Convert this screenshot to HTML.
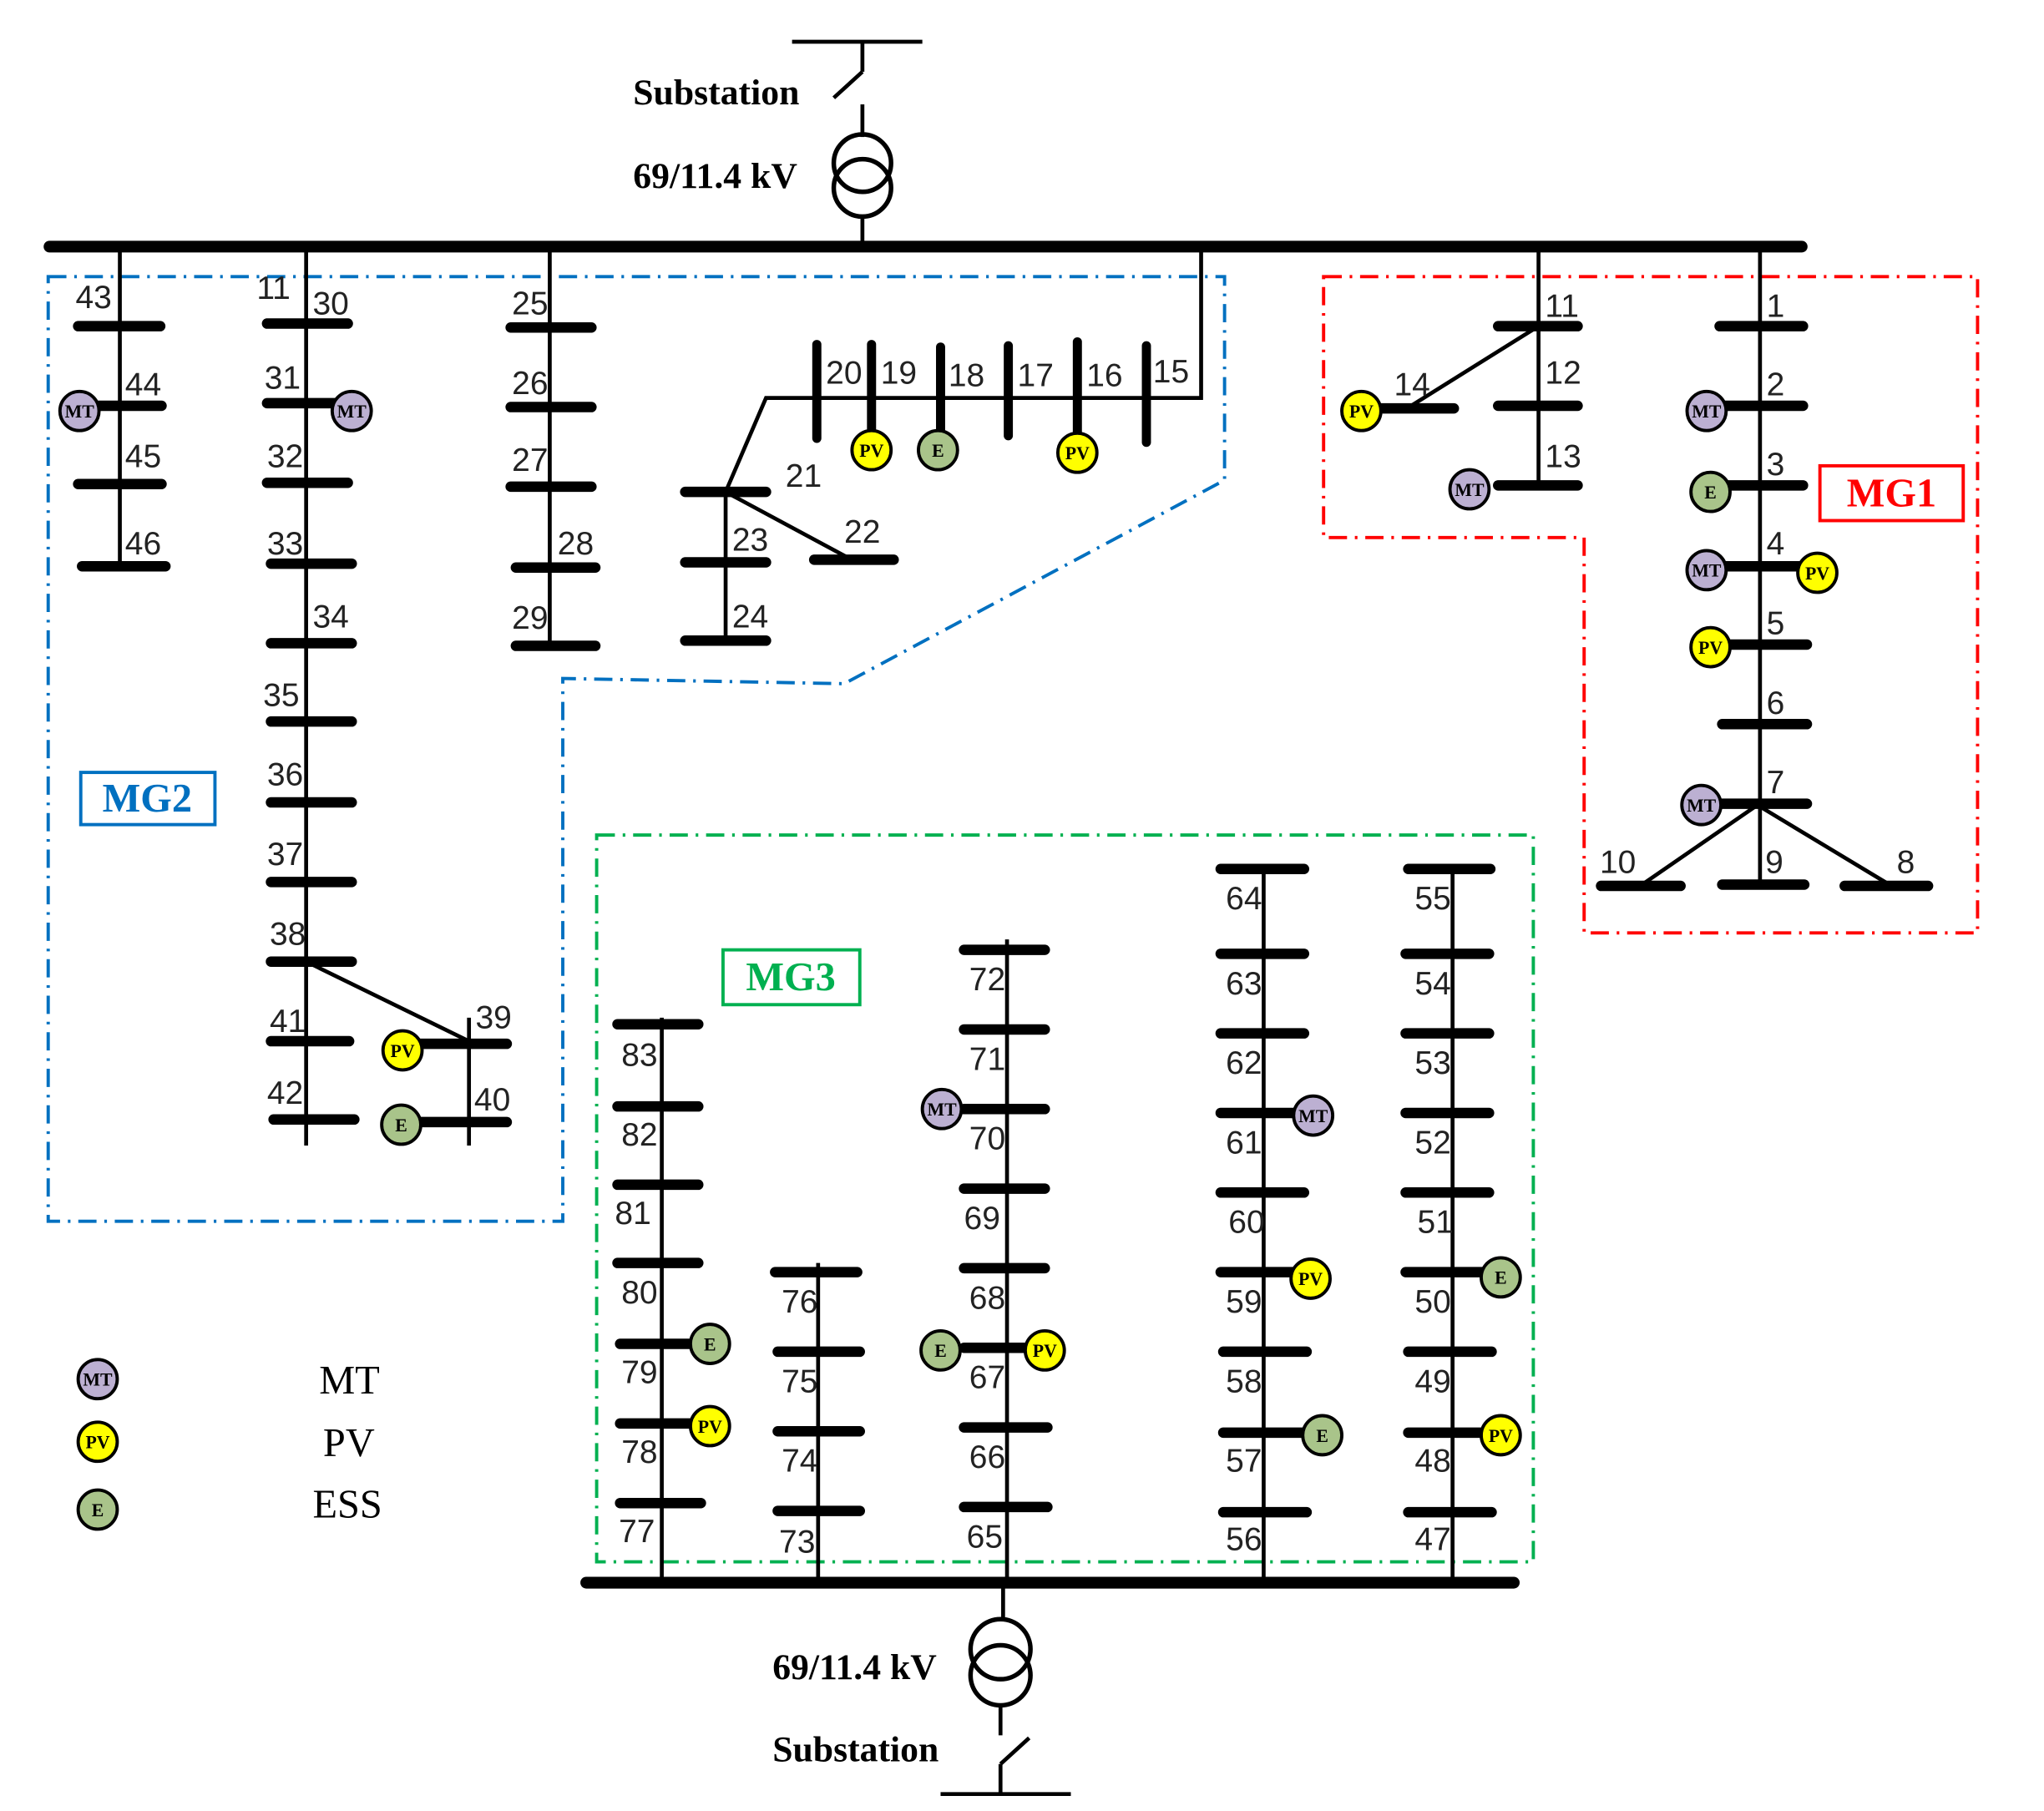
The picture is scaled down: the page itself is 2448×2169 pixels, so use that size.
<!DOCTYPE html>
<html><head><meta charset="utf-8"><style>
html,body{margin:0;padding:0;background:#fff;}
svg{display:block;}
.n{font-family:"Liberation Sans",sans-serif;font-size:25px;fill:#222;}
.b{stroke:#000;stroke-width:8;stroke-linecap:round;}
.l{stroke:#000;stroke-width:3;fill:none;}
.c{stroke:#000;stroke-width:2.5;}
.ct{font-family:"Liberation Serif",serif;font-weight:bold;font-size:14px;text-anchor:middle;fill:#000;}
.sub{font-family:"Liberation Serif",serif;font-weight:bold;font-size:28px;fill:#000;}
.mg{font-family:"Liberation Serif",serif;font-weight:bold;font-size:31px;text-anchor:middle;}
.lg{font-family:"Liberation Serif",serif;font-size:31px;fill:#000;}
</style></head><body>
<svg width="2448" height="2169" viewBox="0 0 1569 1388" preserveAspectRatio="none" xmlns="http://www.w3.org/2000/svg">
<defs>
<g id="mt"><circle r="15" fill="#BCB0D2" class="c"/><text y="5" class="ct">MT</text></g>
<g id="pv"><circle r="15" fill="#FFFF00" class="c"/><text y="5" class="ct">PV</text></g>
<g id="e"><circle r="15" fill="#A9C48A" class="c"/><text y="5" class="ct">E</text></g>
</defs>

<polygon points="37,212 940,212 940,368 648,524 432,520 432,936 37,936" fill="none" stroke="#0070C0" stroke-width="2.5" stroke-dasharray="14,6,2,6"/>
<polygon points="1016,212 1518,212 1518,715 1216,715 1216,412 1016,412" fill="none" stroke="#FF0000" stroke-width="2.5" stroke-dasharray="14,6,2,6"/>
<rect x="458" y="640" width="719" height="557" fill="none" stroke="#00B050" stroke-width="2.5" stroke-dasharray="14,6,2,6"/>

<rect x="62" y="592" width="103" height="40" fill="#fff" stroke="#0070C0" stroke-width="2.5"/>
<text x="113" y="622" class="mg" fill="#0070C0">MG2</text>
<rect x="1397" y="357" width="110" height="42" fill="#fff" stroke="#FF0000" stroke-width="2.5"/>
<text x="1452" y="388" class="mg" fill="#FF0000">MG1</text>
<rect x="555" y="728" width="105" height="42" fill="#fff" stroke="#00B050" stroke-width="2.5"/>
<text x="607" y="759" class="mg" fill="#00B050">MG3</text>

<line x1="608" y1="32" x2="708" y2="32" class="l"/>
<line x1="662" y1="32" x2="662" y2="55" class="l"/>
<line x1="662" y1="55" x2="640" y2="75" class="l"/>
<line x1="662" y1="80" x2="662" y2="105" class="l"/>
<circle cx="662" cy="125" r="22" fill="none" stroke="#000" stroke-width="3.5"/>
<circle cx="662" cy="144" r="22" fill="none" stroke="#000" stroke-width="3.5"/>
<line x1="662" y1="166" x2="662" y2="189" class="l"/>
<text x="486" y="80" class="sub">Substation</text>
<text x="486" y="144" class="sub">69/11.4 kV</text>

<line x1="38" y1="189" x2="1383" y2="189" stroke="#000" stroke-width="9" stroke-linecap="round"/>
<line x1="92" y1="189" x2="92" y2="436" class="l"/>
<line x1="235" y1="189" x2="235" y2="878" class="l"/>
<line x1="422" y1="189" x2="422" y2="495" class="l"/>
<polyline points="922,189 922,305 588,305 557,377" class="l"/>
<line x1="1181" y1="189" x2="1181" y2="373" class="l"/>
<line x1="1351" y1="189" x2="1351" y2="680" class="l"/>

<line x1="60" y1="250" x2="123" y2="250" class="b"/>
<line x1="60" y1="311" x2="124" y2="311" class="b"/>
<line x1="60" y1="371" x2="124" y2="371" class="b"/>
<line x1="63" y1="434" x2="127" y2="434" class="b"/>
<text x="58" y="236" class="n">43</text><text x="96" y="303" class="n">44</text><text x="96" y="358" class="n">45</text><text x="96" y="425" class="n">46</text>
<use href="#mt" x="61" y="315"/>

<line x1="205" y1="248" x2="267" y2="248" class="b"/>
<line x1="205" y1="309" x2="267" y2="309" class="b"/>
<line x1="205" y1="370" x2="267" y2="370" class="b"/>
<line x1="208" y1="432" x2="270" y2="432" class="b"/>
<line x1="208" y1="493" x2="270" y2="493" class="b"/>
<line x1="208" y1="553" x2="270" y2="553" class="b"/>
<line x1="208" y1="615" x2="270" y2="615" class="b"/>
<line x1="208" y1="676" x2="270" y2="676" class="b"/>
<line x1="208" y1="737" x2="270" y2="737" class="b"/>
<line x1="208" y1="798" x2="268" y2="798" class="b"/>
<line x1="210" y1="858" x2="272" y2="858" class="b"/>
<text x="197" y="229" class="n">11</text><text x="240" y="241" class="n">30</text>
<text x="203" y="298" class="n">31</text><text x="205" y="358" class="n">32</text>
<text x="205" y="425" class="n">33</text><text x="240" y="481" class="n">34</text>
<text x="202" y="541" class="n">35</text><text x="205" y="602" class="n">36</text>
<text x="205" y="663" class="n">37</text><text x="207" y="724" class="n">38</text>
<text x="207" y="791" class="n">41</text><text x="205" y="846" class="n">42</text>
<use href="#mt" x="270" y="315"/>
<line x1="235" y1="737" x2="360" y2="798" class="l"/>
<line x1="360" y1="780" x2="360" y2="878" class="l"/>
<line x1="315" y1="800" x2="389" y2="800" class="b"/>
<line x1="320" y1="860" x2="389" y2="860" class="b"/>
<text x="365" y="788" class="n">39</text><text x="364" y="851" class="n">40</text>
<use href="#pv" x="309" y="805"/>
<use href="#e" x="308" y="862"/>

<line x1="392" y1="251" x2="454" y2="251" class="b"/>
<line x1="392" y1="312" x2="454" y2="312" class="b"/>
<line x1="392" y1="373" x2="454" y2="373" class="b"/>
<line x1="396" y1="435" x2="457" y2="435" class="b"/>
<line x1="396" y1="495" x2="457" y2="495" class="b"/>
<text x="393" y="241" class="n">25</text><text x="393" y="302" class="n">26</text>
<text x="393" y="361" class="n">27</text><text x="428" y="425" class="n">28</text>
<text x="393" y="482" class="n">29</text>

<line x1="627" y1="264" x2="627" y2="336" stroke="#000" stroke-width="7" stroke-linecap="round"/>
<line x1="669" y1="264" x2="669" y2="336" stroke="#000" stroke-width="7" stroke-linecap="round"/>
<line x1="722" y1="266" x2="722" y2="336" stroke="#000" stroke-width="7" stroke-linecap="round"/>
<line x1="774" y1="265" x2="774" y2="334" stroke="#000" stroke-width="7" stroke-linecap="round"/>
<line x1="827" y1="262" x2="827" y2="336" stroke="#000" stroke-width="7" stroke-linecap="round"/>
<line x1="880" y1="265" x2="880" y2="339" stroke="#000" stroke-width="7" stroke-linecap="round"/>
<text x="634" y="294" class="n">20</text><text x="676" y="294" class="n">19</text>
<text x="728" y="296" class="n">18</text><text x="781" y="296" class="n">17</text>
<text x="834" y="296" class="n">16</text><text x="885" y="293" class="n">15</text>
<use href="#pv" x="669" y="345"/>
<use href="#e" x="720" y="345"/>
<use href="#pv" x="827" y="347"/>

<line x1="526" y1="377" x2="588" y2="377" class="b"/>
<line x1="557" y1="377" x2="557" y2="491" class="l"/>
<line x1="526" y1="431" x2="588" y2="431" class="b"/>
<line x1="526" y1="491" x2="588" y2="491" class="b"/>
<line x1="557" y1="377" x2="652" y2="428" class="l"/>
<line x1="625" y1="429" x2="686" y2="429" class="b"/>
<text x="603" y="373" class="n">21</text><text x="648" y="416" class="n">22</text>
<text x="562" y="422" class="n">23</text><text x="562" y="481" class="n">24</text>

<line x1="1150" y1="250" x2="1211" y2="250" class="b"/>
<line x1="1150" y1="311" x2="1211" y2="311" class="b"/>
<line x1="1150" y1="372" x2="1211" y2="372" class="b"/>
<line x1="1181" y1="250" x2="1080" y2="313" class="l"/>
<line x1="1050" y1="313" x2="1116" y2="313" class="b"/>
<text x="1186" y="243" class="n">11</text><text x="1186" y="294" class="n">12</text>
<text x="1186" y="358" class="n">13</text><text x="1070" y="303" class="n">14</text>
<use href="#pv" x="1045" y="315"/>
<use href="#mt" x="1128" y="375"/>

<line x1="1320" y1="250" x2="1384" y2="250" class="b"/>
<line x1="1320" y1="311" x2="1384" y2="311" class="b"/>
<line x1="1320" y1="372" x2="1384" y2="372" class="b"/>
<line x1="1320" y1="434" x2="1384" y2="434" class="b"/>
<line x1="1320" y1="494" x2="1387" y2="494" class="b"/>
<line x1="1322" y1="555" x2="1387" y2="555" class="b"/>
<line x1="1320" y1="616" x2="1387" y2="616" class="b"/>
<line x1="1349" y1="617" x2="1259" y2="679" class="l"/>
<line x1="1349" y1="617" x2="1452" y2="679" class="l"/>
<line x1="1229" y1="679" x2="1290" y2="679" class="b"/>
<line x1="1322" y1="678" x2="1385" y2="678" class="b"/>
<line x1="1416" y1="679" x2="1480" y2="679" class="b"/>
<text x="1356" y="243" class="n">1</text><text x="1356" y="303" class="n">2</text>
<text x="1356" y="364" class="n">3</text><text x="1356" y="425" class="n">4</text>
<text x="1356" y="486" class="n">5</text><text x="1356" y="547" class="n">6</text>
<text x="1356" y="608" class="n">7</text>
<text x="1228" y="669" class="n">10</text><text x="1355" y="669" class="n">9</text><text x="1456" y="669" class="n">8</text>
<use href="#mt" x="1310" y="315"/>
<use href="#e" x="1313" y="377"/>
<use href="#mt" x="1310" y="437"/>
<use href="#pv" x="1395" y="439"/>
<use href="#pv" x="1313" y="496"/>
<use href="#mt" x="1306" y="617"/>

<line x1="450" y1="1213" x2="1162" y2="1213" stroke="#000" stroke-width="9" stroke-linecap="round"/>
<line x1="508" y1="780" x2="508" y2="1213" class="l"/>
<line x1="628" y1="968" x2="628" y2="1213" class="l"/>
<line x1="773" y1="720" x2="773" y2="1213" class="l"/>
<line x1="970" y1="665" x2="970" y2="1213" class="l"/>
<line x1="1115" y1="665" x2="1115" y2="1213" class="l"/>

<line x1="474" y1="785" x2="536" y2="785" class="b"/>
<line x1="474" y1="848" x2="536" y2="848" class="b"/>
<line x1="474" y1="908" x2="536" y2="908" class="b"/>
<line x1="474" y1="968" x2="536" y2="968" class="b"/>
<line x1="476" y1="1030" x2="538" y2="1030" class="b"/>
<line x1="476" y1="1091" x2="538" y2="1091" class="b"/>
<line x1="476" y1="1152" x2="538" y2="1152" class="b"/>
<text x="477" y="817" class="n">83</text><text x="477" y="878" class="n">82</text>
<text x="472" y="938" class="n">81</text><text x="477" y="999" class="n">80</text>
<text x="477" y="1060" class="n">79</text><text x="477" y="1121" class="n">78</text>
<text x="475" y="1182" class="n">77</text>
<use href="#e" x="545" y="1030"/>
<use href="#pv" x="545" y="1093"/>

<line x1="595" y1="975" x2="658" y2="975" class="b"/>
<line x1="597" y1="1036" x2="660" y2="1036" class="b"/>
<line x1="597" y1="1097" x2="660" y2="1097" class="b"/>
<line x1="597" y1="1158" x2="660" y2="1158" class="b"/>
<text x="600" y="1006" class="n">76</text><text x="600" y="1067" class="n">75</text>
<text x="600" y="1128" class="n">74</text><text x="598" y="1190" class="n">73</text>

<line x1="740" y1="728" x2="802" y2="728" class="b"/>
<line x1="740" y1="789" x2="802" y2="789" class="b"/>
<line x1="740" y1="850" x2="802" y2="850" class="b"/>
<line x1="740" y1="911" x2="802" y2="911" class="b"/>
<line x1="740" y1="972" x2="802" y2="972" class="b"/>
<line x1="740" y1="1033" x2="802" y2="1033" class="b"/>
<line x1="740" y1="1094" x2="804" y2="1094" class="b"/>
<line x1="740" y1="1155" x2="804" y2="1155" class="b"/>
<text x="744" y="759" class="n">72</text><text x="744" y="820" class="n">71</text>
<text x="744" y="881" class="n">70</text><text x="740" y="942" class="n">69</text>
<text x="744" y="1003" class="n">68</text><text x="744" y="1064" class="n">67</text>
<text x="744" y="1125" class="n">66</text><text x="742" y="1186" class="n">65</text>
<use href="#mt" x="723" y="850"/>
<use href="#e" x="722" y="1035"/>
<use href="#pv" x="802" y="1035"/>

<line x1="937" y1="666" x2="1001" y2="666" class="b"/>
<line x1="937" y1="731" x2="1001" y2="731" class="b"/>
<line x1="937" y1="792" x2="1001" y2="792" class="b"/>
<line x1="937" y1="853" x2="1001" y2="853" class="b"/>
<line x1="937" y1="914" x2="1001" y2="914" class="b"/>
<line x1="937" y1="975" x2="1001" y2="975" class="b"/>
<line x1="939" y1="1036" x2="1003" y2="1036" class="b"/>
<line x1="939" y1="1098" x2="1003" y2="1098" class="b"/>
<line x1="939" y1="1159" x2="1003" y2="1159" class="b"/>
<text x="941" y="697" class="n">64</text><text x="941" y="762" class="n">63</text>
<text x="941" y="823" class="n">62</text><text x="941" y="884" class="n">61</text>
<text x="943" y="945" class="n">60</text><text x="941" y="1006" class="n">59</text>
<text x="941" y="1067" class="n">58</text><text x="941" y="1128" class="n">57</text>
<text x="941" y="1188" class="n">56</text>
<use href="#mt" x="1008" y="855"/>
<use href="#pv" x="1006" y="980"/>
<use href="#e" x="1015" y="1100"/>

<line x1="1081" y1="666" x2="1144" y2="666" class="b"/>
<line x1="1079" y1="731" x2="1143" y2="731" class="b"/>
<line x1="1079" y1="792" x2="1143" y2="792" class="b"/>
<line x1="1079" y1="853" x2="1143" y2="853" class="b"/>
<line x1="1079" y1="914" x2="1143" y2="914" class="b"/>
<line x1="1079" y1="975" x2="1143" y2="975" class="b"/>
<line x1="1081" y1="1036" x2="1145" y2="1036" class="b"/>
<line x1="1081" y1="1098" x2="1145" y2="1098" class="b"/>
<line x1="1081" y1="1159" x2="1145" y2="1159" class="b"/>
<text x="1086" y="697" class="n">55</text><text x="1086" y="762" class="n">54</text>
<text x="1086" y="823" class="n">53</text><text x="1086" y="884" class="n">52</text>
<text x="1088" y="945" class="n">51</text><text x="1086" y="1006" class="n">50</text>
<text x="1086" y="1067" class="n">49</text><text x="1086" y="1128" class="n">48</text>
<text x="1086" y="1188" class="n">47</text>
<use href="#e" x="1152" y="979"/>
<use href="#pv" x="1152" y="1100"/>

<line x1="770" y1="1213" x2="770" y2="1242" class="l"/>
<circle cx="768" cy="1264" r="23" fill="none" stroke="#000" stroke-width="3.5"/>
<circle cx="768" cy="1284" r="23" fill="none" stroke="#000" stroke-width="3.5"/>
<line x1="768" y1="1307" x2="768" y2="1330" class="l"/>
<line x1="768" y1="1352" x2="790" y2="1332" class="l"/>
<line x1="768" y1="1352" x2="768" y2="1375" class="l"/>
<line x1="722" y1="1375" x2="822" y2="1375" class="l"/>
<text x="593" y="1287" class="sub">69/11.4 kV</text>
<text x="593" y="1350" class="sub">Substation</text>

<use href="#mt" x="75" y="1057"/>
<use href="#pv" x="75" y="1105"/>
<use href="#e" x="75" y="1157"/>
<text x="245" y="1068" class="lg">MT</text>
<text x="248" y="1116" class="lg">PV</text>
<text x="240" y="1163" class="lg">ESS</text>
</svg>
</body></html>
